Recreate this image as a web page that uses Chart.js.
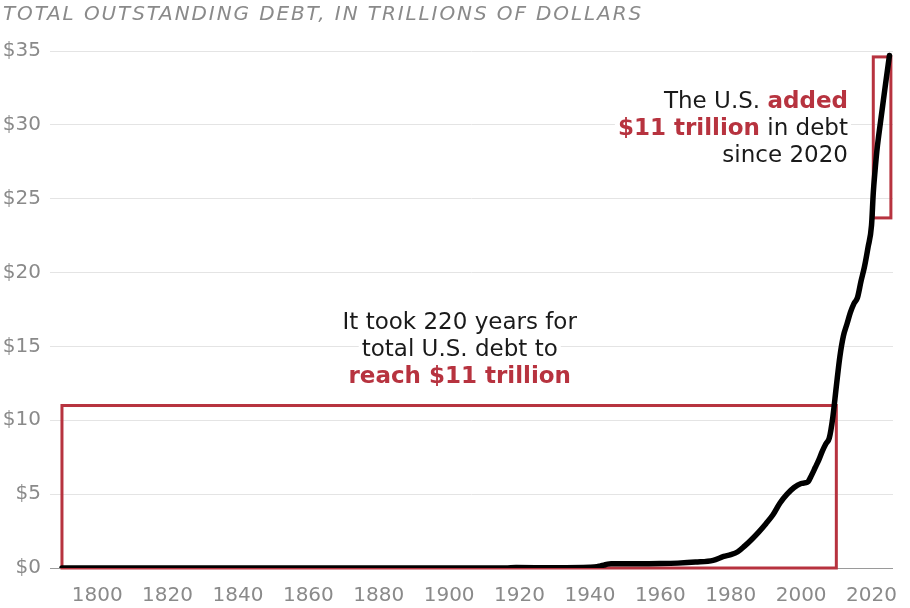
<!DOCTYPE html>
<html>
<head>
<meta charset="utf-8">
<script src="https://cdn.jsdelivr.net/npm/chart.js@4.4.1/dist/chart.umd.min.js"></script>
<style>
  html, body { margin: 0; padding: 0; background: #fff; }
  #wrap { width: 910px; height: 608px; position: relative; }
</style>
</head>
<body>
<div id="wrap"><canvas id="c" width="910" height="608"></canvas></div>
<script>
// ---- data ----
const titleText = 'TOTAL OUTSTANDING DEBT, IN TRILLIONS OF DOLLARS';
const years = [1790, 1800, 1810, 1820, 1830, 1840, 1850, 1860, 1870, 1880, 1890, 1900, 1910, 1916, 1919, 1930, 1940, 1942, 1943, 1944, 1945, 1946, 1950, 1955, 1960, 1965, 1970, 1975, 1978, 1980, 1982, 1984, 1986, 1988, 1990, 1992, 1994, 1996, 1998, 2000, 2001, 2002, 2003, 2004, 2005, 2006, 2007, 2008, 2009, 2010, 2011, 2012, 2013, 2014, 2015, 2016, 2017, 2018, 2019, 2020, 2020.5, 2021, 2021.5, 2022, 2023, 2024, 2025.1];
const debtTrillions = [0, 0, 0, 0, 0, 0, 0, 0.003, 0.002, 0.002, 0.001, 0.001, 0.001, 0.001, 0.026, 0.016, 0.045, 0.08, 0.14, 0.2, 0.26, 0.28, 0.28, 0.29, 0.3, 0.33, 0.4, 0.52, 0.78, 0.9, 1.1, 1.5, 1.95, 2.45, 3.0, 3.6, 4.4, 5.0, 5.45, 5.72, 5.76, 5.85, 6.3, 6.8, 7.3, 7.9, 8.4, 8.8, 10.2, 12.3, 14.3, 15.7, 16.5, 17.3, 17.9, 18.3, 19.4, 20.4, 21.7, 23.2, 25.4, 26.9, 28.2, 29.2, 31.0, 32.8, 34.7];
const xTickYears = [1800, 1820, 1840, 1860, 1880, 1900, 1920, 1940, 1960, 1980, 2000, 2020];
const yTickValues = [0, 5, 10, 15, 20, 25, 30, 35];
// highlight boxes: [fromYear, toYear, fromValue, toValue]
const boxFirst11 = [1790, 2010, 0, 11];
const boxSince2020 = [2020.5, 2025.5, 23.7, 34.6];
// annotation texts: each line is a list of [text, highlighted]
const noteLeftLines = [
  [['It took 220 years for', false]],
  [['total U.S. debt to', false]],
  [['reach $11 trillion', true]]
];
const noteRightLines = [
  [['The U.S. ', false], ['added', true]],
  [['$11 trillion', true], [' in debt', false]],
  [['since 2020', false]]
];
// anchors in data units: [year, value of first baseline]
const noteLeftAnchor = [1903, 16.16];
const noteRightAnchor = [2013.3, 31.12];

// ---- styling ----
const RED = '#b7333f';
const GRAY = '#8a8a8a';
const FONT = '"DejaVu Sans", "Noto Sans", sans-serif';

const points = years.map((yr, i) => ({ x: yr, y: debtTrillions[i] }));

const notesPlugin = {
  id: 'notes',
  beforeDatasetsDraw(chart) {
    const { ctx, scales: { x, y } } = chart;
    ctx.save();
    // boxes
    ctx.strokeStyle = RED;
    ctx.lineWidth = 3;
    [boxFirst11, boxSince2020].forEach(b => {
      const x0 = x.getPixelForValue(b[0]);
      const x1 = x.getPixelForValue(b[1]);
      const y0 = y.getPixelForValue(b[2]);
      const y1 = y.getPixelForValue(b[3]);
      ctx.strokeRect(x0, y1, x1 - x0, y0 - y1);
    });
    // notes
    const lineGap = 26.7;
    const drawNote = (lines, anchor, align) => {
      const ax = x.getPixelForValue(anchor[0]);
      const ay = y.getPixelForValue(anchor[1]);
      ctx.textBaseline = 'alphabetic';
      ctx.textAlign = 'left';
      lines.forEach((runs, li) => {
        const fonts = runs.map(r => (r[1] ? '700 ' : '400 ') + '23px ' + FONT);
        const widths = runs.map((r, i) => { ctx.font = fonts[i]; return ctx.measureText(r[0]).width; });
        const total = widths.reduce((a, b) => a + b, 0);
        let sx = align === 'center' ? ax - total / 2 : ax - total;
        const by = ay + li * lineGap;
        ctx.fillStyle = '#ffffff';
        ctx.fillRect(sx - 3, by - 20, total + 6, 26);
        runs.forEach((r, i) => {
          ctx.font = fonts[i];
          ctx.fillStyle = r[1] ? RED : '#1a1a1a';
          ctx.fillText(r[0], sx, by);
          sx += widths[i];
        });
      });
    };
    drawNote(noteLeftLines, noteLeftAnchor, 'center');
    drawNote(noteRightLines, noteRightAnchor, 'right');
    ctx.restore();
  },
  afterDraw(chart) {
    const { ctx } = chart;
    ctx.save();
    ctx.font = 'italic 200 20px ' + FONT;
    ctx.fillStyle = '#8a8a8a';
    ctx.textBaseline = 'alphabetic';
    ctx.textAlign = 'left';
    if ('letterSpacing' in ctx) ctx.letterSpacing = '1.9px';
    ctx.fillText(titleText, 3, 20);
    ctx.restore();
  }
};

new Chart(document.getElementById('c'), {
  type: 'line',
  data: {
    datasets: [{
      data: points,
      borderColor: '#000000',
      borderWidth: 5.5,
      pointRadius: 0,
      pointHoverRadius: 0,
      fill: false,
      cubicInterpolationMode: 'monotone',
      borderCapStyle: 'round',
      borderJoinStyle: 'round'
    }]
  },
  options: {
    responsive: false,
    animation: false,
    events: [],
    layout: { padding: { top: 51, left: 2, right: 17, bottom: 0 } },
    plugins: {
      legend: { display: false },
      tooltip: { enabled: false },
      title: { display: false }
    },
    scales: {
      x: {
        type: 'linear',
        min: 1786.6,
        max: 2026.1,
        grid: { display: false, drawTicks: false },
        border: { display: false },
        afterBuildTicks: s => { s.ticks = xTickYears.map(v => ({ value: v })); },
        afterFit: s => { s.height = 40; s.paddingLeft = 0; s.paddingRight = 0; },
        ticks: {
          padding: 16,
          color: GRAY,
          font: { family: FONT, size: 20 },
          maxRotation: 0,
          callback: v => String(v)
        }
      },
      y: {
        min: 0,
        max: 35,
        grid: {
          drawTicks: false,
          lineWidth: 1,
          color: c => (c.tick && c.tick.value === 0 ? '#9a9a9a' : '#e4e4e4')
        },
        border: { display: false },
        afterBuildTicks: s => { s.ticks = yTickValues.map(v => ({ value: v })); },
        afterFit: s => { s.width = 48; s.paddingTop = 0; s.paddingBottom = 0; },
        ticks: {
          padding: 9,
          color: GRAY,
          font: { family: FONT, size: 20 },
          callback: v => '$' + v
        }
      }
    }
  },
  plugins: [notesPlugin]
});
</script>
</body>
</html>
